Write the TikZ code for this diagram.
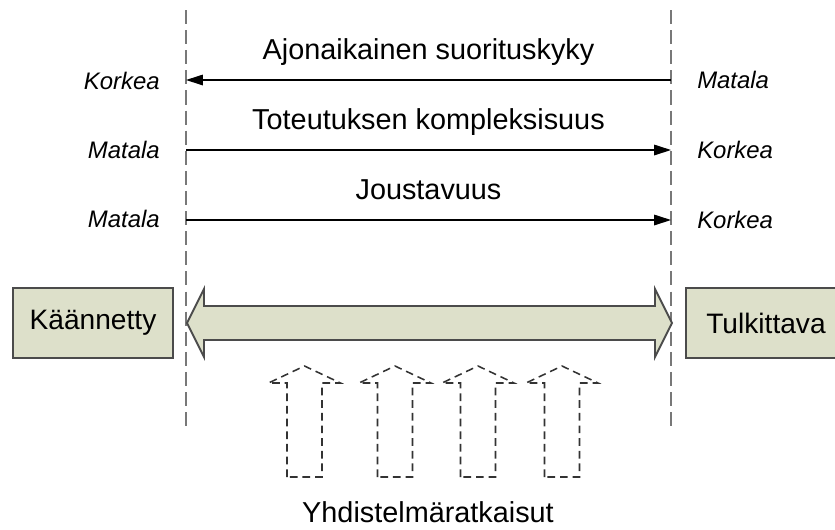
\documentclass[tikz,border=0pt]{standalone}
\usepackage{fontspec}
\setmainfont{Liberation Sans}
\usetikzlibrary{arrows.meta, positioning, calc}
\definecolor{boxfill}{RGB}{221, 224, 202}
\definecolor{guidegray}{RGB}{120, 120, 120}
\definecolor{edgegray}{RGB}{75, 75, 75}

\begin{document}
\begin{tikzpicture}[
  x=0.025cm, y=-0.025cm,
  endbox/.style={rectangle, draw=edgegray, fill=boxfill, line width=1.3pt,
                 minimum width=4cm, minimum height=1.75cm, inner sep=0pt,
                 font=\fontsize{20}{24}\selectfont},
  title/.style={font=\fontsize{20.5}{24}\selectfont, inner sep=0pt},
  level/.style={font=\fontsize{17}{20}\selectfont\itshape, inner sep=0pt},
  guide/.style={guidegray, line width=1.5pt, dash pattern=on 10pt off 4.3pt},
  arr/.style={-{Triangle[length=12pt, width=7.5pt]}, line width=0.9pt},
  partial/.style={draw=black!80, line width=1.1pt, dash pattern=on 5.5pt off 3.5pt}
]
  \useasboundingbox (0,0) rectangle (835,529);

  % guide lines
  \coordinate (gLtop) at (186,10);
  \coordinate (gLbot) at (186,428);
  \coordinate (gRtop) at (671,10);
  \coordinate (gRbot) at (671,428);
  \draw[guide] (gLtop) -- (gLbot);
  \draw[guide] (gRtop) -- (gRbot);

  % three properties
  \coordinate (perfL) at (186,80);   \coordinate (perfR) at (671,80);
  \coordinate (complL) at (186,150); \coordinate (complR) at (671,150);
  \coordinate (flexL) at (186,220);  \coordinate (flexR) at (671,220);

  \node[title] (perf) at (428.5,52) {Ajonaikainen suorituskyky};
  \node[title] (compl) at (428.5,122) {Toteutuksen kompleksisuus};
  \node[title] (flex) at (428.5,190) {Joustavuus};

  \node[level, anchor=east] (perfLo) at (160,81) {Korkea};
  \node[level, anchor=west] (perfHi) at (697,80) {Matala};
  \node[level, anchor=east] (complLo) at (160,150) {Matala};
  \node[level, anchor=west] (complHi) at (697,150) {Korkea};
  \node[level, anchor=east] (flexLo) at (160,219) {Matala};
  \node[level, anchor=west] (flexHi) at (697,220) {Korkea};

  \draw[arr] (perfR) -- (perfL);
  \draw[arr] (complL) -- (complR);
  \draw[arr] (flexL) -- (flexR);

  % the two ends
  \node[endbox] (comp) at (93,323) {Käännetty};
  \node[endbox] (interp) at (766,323) {Tulkittava};

  % spectrum between them
  \coordinate (span) at (429.5,323);
  \draw[draw=edgegray, fill=boxfill, line width=1.3pt]
    (187,323) -- (204,289) -- (204,306) -- (655,306) -- (655,289) -- (672,323)
    -- (655,357) -- (655,340) -- (204,340) -- (204,357) -- cycle;

  % hybrids
  \foreach \cx in {304.5,395,478,562}
    \draw[partial] (\cx-17.5,477) -- (\cx-17.5,383) -- (\cx-36,383) -- (\cx,366)
      -- (\cx+36,383) -- (\cx+17.5,383) -- (\cx+17.5,477) -- cycle;

  \node[title] (hybrid) at (428,512) {Yhdistelmäratkaisut};
\end{tikzpicture}
\end{document}
